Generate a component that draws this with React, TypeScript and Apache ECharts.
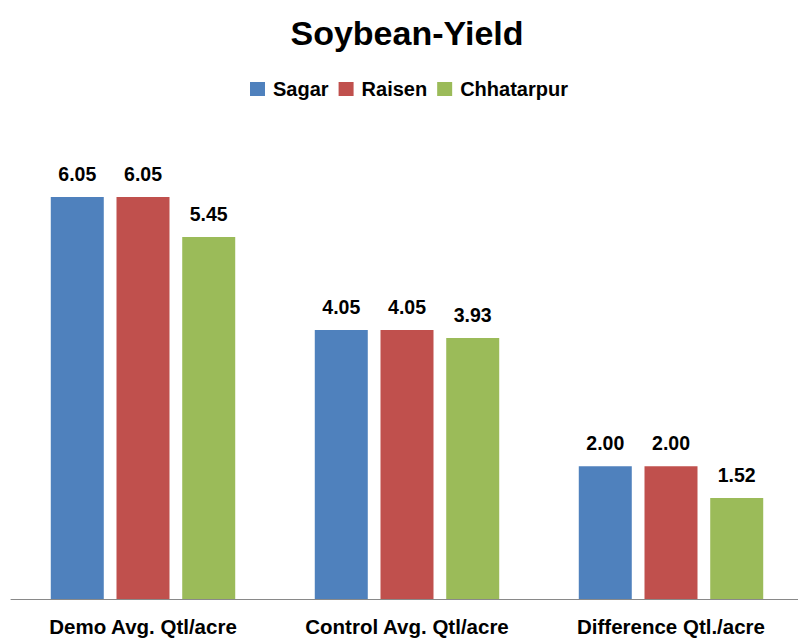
import React, { useEffect, useRef } from "react";
import * as echarts from "echarts";

const categories = ["Demo Avg. Qtl/acre", "Control Avg. Qtl/acre", "Difference Qtl./acre"];
const seriesNames = ["Sagar", "Raisen", "Chhatarpur"];
const sagar = [6.05, 4.05, 2.0];
const raisen = [6.05, 4.05, 2.0];
const chhatarpur = [5.45, 3.93, 1.52];
const colors = ["#4F81BD", "#C0504D", "#9BBB59"];

const FONT = "'Liberation Sans', Arial, sans-serif";

export default function App() {
  const ref = useRef<HTMLDivElement>(null);
  useEffect(() => {
    document.body.style.margin = "0";
    document.body.style.overflow = "hidden";
    document.documentElement.style.overflow = "hidden";
    const chart = echarts.init(ref.current!, null, { renderer: "svg" });
    const values = [sagar, raisen, chhatarpur];
    chart.setOption({
      animation: false,
      backgroundColor: "#ffffff",
      title: {
        text: "Soybean-Yield",
        left: 407,
        textAlign: "center",
        top: 16,
        padding: 0,
        textStyle: { fontFamily: FONT, fontSize: 34, fontWeight: "bold", color: "#000" },
      },
      legend: {
        data: seriesNames,
        left: 250,
        top: 79,
        padding: 0,
        icon: "rect",
        itemWidth: 15,
        itemHeight: 14,
        itemGap: 10,
        textStyle: { fontFamily: FONT, fontSize: 20, fontWeight: "bold", color: "#000", padding: [0, 0, 0, 3] },
      },
      grid: { left: 11, width: 792, top: 134, bottom: 40 },
      xAxis: {
        type: "category",
        data: categories,
        axisTick: { show: false },
        axisLine: { lineStyle: { color: "#898989", width: 1 } },
        axisLabel: {
          margin: 17,
          fontFamily: FONT,
          fontSize: 20.5,
          fontWeight: "bold",
          color: "#000",
          interval: 0,
        },
      },
      yAxis: { type: "value", min: 0, max: 7, show: false, splitLine: { show: false } },
      series: seriesNames.map((name, i) => ({
        name,
        type: "bar",
        data: values[i],
        barWidth: 53,
        barGap: "24%",
        itemStyle: { color: colors[i] },
        label: {
          show: true,
          position: "top",
          distance: 13,
          formatter: (p: any) => Number(p.value).toFixed(2),
          fontFamily: FONT,
          fontSize: 19.5,
          fontWeight: "bold",
          color: "#000",
        },
      })),
    });
    return () => chart.dispose();
  }, []);
  return (
    <div style={{ width: 798, height: 639, overflow: "hidden" }}>
      <div ref={ref} style={{ width: 814, height: 639 }} />
    </div>
  );
}
